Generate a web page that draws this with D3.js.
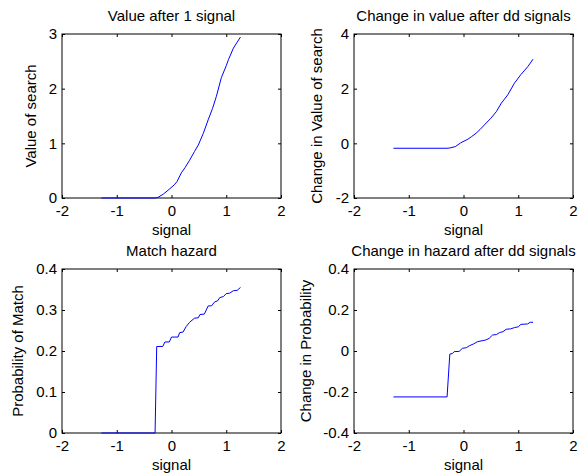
<!DOCTYPE html>
<html>
<head>
<meta charset="utf-8">
<script src="https://cdn.jsdelivr.net/npm/d3@7"></script>
<style>
  body { margin: 0; background: #fff; }
  svg text { font-family: "Liberation Sans", Arial, sans-serif; fill: #000; }
</style>
</head>
<body>
<script>
// values
const sig1 = [-1.28, -0.3, -0.25, -0.15, -0.03, 0.05, 0.1, 0.18, 0.25, 0.33, 0.42, 0.49, 0.58, 0.67, 0.75, 0.82, 0.91, 1.0, 1.04, 1.13, 1.2, 1.26];
const val1 = [0, 0, 0.01, 0.07, 0.17, 0.24, 0.3, 0.46, 0.56, 0.69, 0.85, 0.97, 1.18, 1.43, 1.64, 1.86, 2.2, 2.42, 2.53, 2.74, 2.85, 2.945];

const sig2 = [-1.28, -0.3, -0.25, -0.15, -0.05, 0.08, 0.15, 0.23, 0.3, 0.38, 0.5, 0.6, 0.69, 0.75, 0.81, 0.93, 1.05, 1.12, 1.18, 1.27];
const val2 = [-0.18, -0.18, -0.17, -0.12, 0.02, 0.15, 0.25, 0.37, 0.5, 0.67, 0.92, 1.16, 1.47, 1.62, 1.78, 2.2, 2.52, 2.68, 2.82, 3.08];

const sig3 = [-1.28, -0.3, -0.27, -0.16, -0.12, -0.04, 0.0, 0.12, 0.15, 0.21, 0.27, 0.33, 0.42, 0.49, 0.52, 0.6, 0.67, 0.73, 0.79, 0.84, 0.88, 0.95, 1.0, 1.06, 1.13, 1.2, 1.26];
const val3 = [0, 0, 0.211, 0.211, 0.222, 0.222, 0.234, 0.234, 0.245, 0.246, 0.26, 0.27, 0.28, 0.281, 0.289, 0.29, 0.31, 0.31, 0.32, 0.322, 0.33, 0.333, 0.34, 0.341, 0.347, 0.348, 0.355];

const sig4 = [-1.28, -0.3, -0.25, -0.2, -0.17, -0.08, -0.02, 0.05, 0.11, 0.18, 0.26, 0.34, 0.41, 0.47, 0.53, 0.6, 0.66, 0.72, 0.78, 0.86, 0.93, 1.0, 1.05, 1.12, 1.17, 1.22, 1.27];
const val4 = [-0.224, -0.224, -0.015, -0.012, -0.003, -0.002, 0.013, 0.016, 0.026, 0.034, 0.046, 0.05, 0.054, 0.062, 0.078, 0.08, 0.09, 0.094, 0.106, 0.108, 0.114, 0.118, 0.13, 0.131, 0.132, 0.14, 0.14];

const xTicks = [-2, -1, 0, 1, 2];
const yTicks1 = [0, 1, 2, 3];
const yTicks2 = [-2, 0, 2, 4];
const yTicks3 = [0, 0.1, 0.2, 0.3, 0.4];
const yTicks4 = [-0.4, -0.2, 0, 0.2, 0.4];

const titles = ["Value after 1 signal", "Change in value after dd signals", "Match hazard", "Change in hazard after dd signals"];
const yLabels = ["Value of search", "Change in Value of search", "Probability of Match", "Change in Probability"];

const w = 578;
const h = 475;
const fontSize = "15px";

const svg = d3.select("body")
  .append("svg")
  .attr("width", w)
  .attr("height", h);

// panel boxes and label offsets
const panels = [
  {x: sig1, y: val1, yTicks: yTicks1, left: 62, top: 34, labelX: 36},
  {x: sig2, y: val2, yTicks: yTicks2, left: 354, top: 34, labelX: 322},
  {x: sig3, y: val3, yTicks: yTicks3, left: 62, top: 269, labelX: 23},
  {x: sig4, y: val4, yTicks: yTicks4, left: 354, top: 269, labelX: 311}
];
const pw = 219;
const ph = 164;
const tick = 3;

panels.forEach((p, i) => {
  const g = svg.append("g").attr("transform", `translate(${p.left},${p.top})`);

  const x = d3.scaleLinear().domain([-2, 2]).range([0, pw]);
  const y = d3.scaleLinear().domain(d3.extent(p.yTicks)).range([ph, 0]);

  const fmt = d => String(d);

  // bottom / left axes with labels, ticks pointing inward
  g.append("g")
    .attr("transform", `translate(0,${ph})`)
    .call(d3.axisBottom(x).tickValues(xTicks).tickFormat(fmt).tickSizeInner(-tick).tickSizeOuter(0).tickPadding(7.5));
  g.append("g")
    .call(d3.axisLeft(y).tickValues(p.yTicks).tickFormat(fmt).tickSizeInner(-tick).tickSizeOuter(0).tickPadding(5));
  // top / right mirror ticks
  g.append("g")
    .call(d3.axisTop(x).tickValues(xTicks).tickFormat("").tickSizeInner(-tick).tickSizeOuter(0));
  g.append("g")
    .attr("transform", `translate(${pw},0)`)
    .call(d3.axisRight(y).tickValues(p.yTicks).tickFormat("").tickSizeInner(-tick).tickSizeOuter(0));

  g.selectAll(".domain").remove();
  g.selectAll(".tick line").attr("stroke", "#000");
  g.selectAll(".tick text")
    .style("font-size", fontSize)
    .style("font-family", "'Liberation Sans', Arial, sans-serif");

  g.append("rect")
    .attr("width", pw)
    .attr("height", ph)
    .attr("fill", "none")
    .attr("stroke", "#000");

  const line = d3.line()
    .x((d, k) => x(p.x[k]))
    .y(d => y(d));

  g.append("path")
    .datum(p.y)
    .attr("d", line)
    .attr("fill", "none")
    .attr("stroke", "#0000ff")
    .attr("stroke-width", 1);

  g.append("text")
    .attr("x", pw / 2)
    .attr("y", -13)
    .attr("text-anchor", "middle")
    .style("font-size", fontSize)
    .text(titles[i]);

  g.append("text")
    .attr("x", pw / 2)
    .attr("y", ph + 37)
    .attr("text-anchor", "middle")
    .style("font-size", fontSize)
    .text("signal");

  svg.append("text")
    .attr("transform", `translate(${p.labelX},${p.top + ph / 2}) rotate(-90)`)
    .attr("text-anchor", "middle")
    .style("font-size", fontSize)
    .text(yLabels[i]);
});
</script>
</body>
</html>
